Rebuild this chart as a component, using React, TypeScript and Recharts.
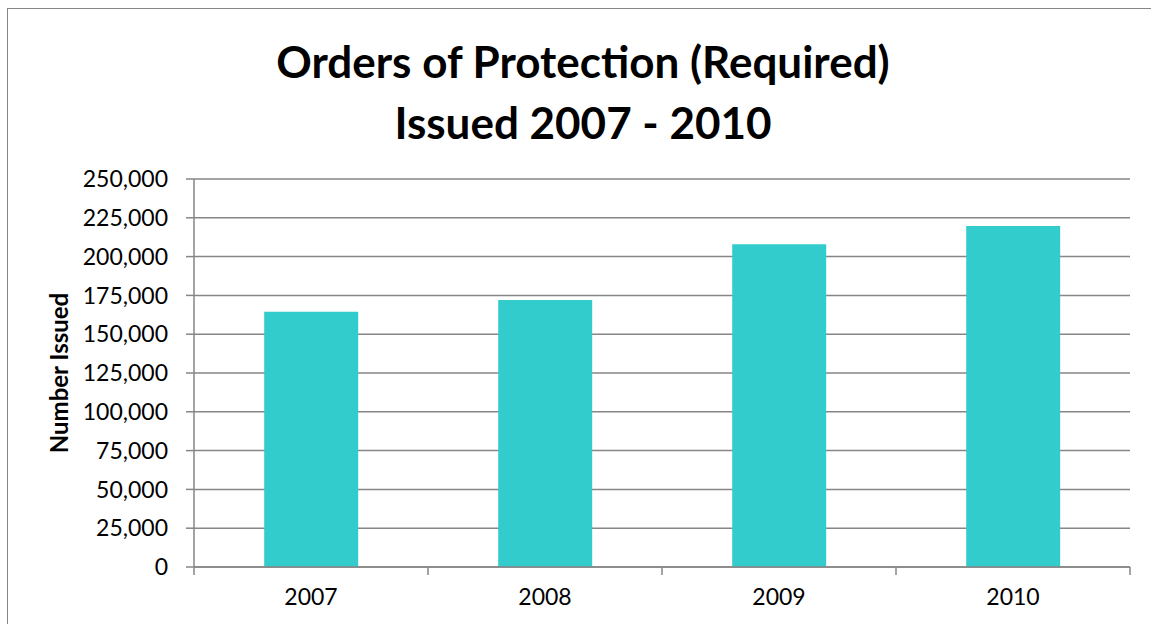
import { BarChart, Bar, XAxis, YAxis, CartesianGrid } from "recharts";

const years = ["2007", "2008", "2009", "2010"];
const issued = [164500, 172000, 208000, 219700];
const yTicks = [0, 25000, 50000, 75000, 100000, 125000, 150000, 175000, 200000, 225000, 250000];

const data = years.map((year, i) => ({ year, issued: issued[i] }));

const GRAY = "#868686";
const FONT = "Lato, 'Open Sans', sans-serif";
const X_TICK_GAP = 22;

// category label plus tick marks on the category boundaries (Excel style)
function YearTick(props: any) {
  const { x, y, payload, index, visibleTicksCount } = props;
  const half = payload?.offset ?? 0;
  const axisY = y - X_TICK_GAP;
  const last = index === (visibleTicksCount ?? years.length) - 1;
  return (
    <g>
      <line x1={x - half} x2={x - half} y1={axisY} y2={axisY + 8} stroke={GRAY} strokeWidth={1.5} />
      {last && (
        <line x1={x + half} x2={x + half} y1={axisY} y2={axisY + 8} stroke={GRAY} strokeWidth={1.5} />
      )}
      <text x={x} y={y} dy="0.71em" textAnchor="middle" fontSize={23} fontFamily={FONT} fill="#000">
        {payload.value}
      </text>
    </g>
  );
}

export default function App() {
  return (
    <div
      style={{
        position: "absolute",
        left: 7,
        top: 8,
        width: 1160,
        height: 630,
        border: `1px solid ${GRAY}`,
        boxSizing: "border-box",
        background: "#fff",
        fontFamily: FONT,
      }}
    >
      <div
        style={{
          position: "absolute",
          left: 0,
          top: 22,
          width: 1150,
          textAlign: "center",
          fontWeight: 700,
          fontSize: 44,
          lineHeight: "61px",
          color: "#000",
        }}
      >
        Orders of Protection (Required)
        <br />
        Issued 2007 - 2010
      </div>
      <BarChart
        width={1150}
        height={610}
        data={data}
        margin={{ top: 170, right: 28, left: 76, bottom: 2 }}
        barCategoryGap="30%"
      >
        <CartesianGrid vertical={false} stroke={GRAY} strokeWidth={1.5} />
        <XAxis
          dataKey="year"
          height={50}
          tickLine={false}
          tickSize={0}
          tickMargin={X_TICK_GAP}
          axisLine={{ stroke: GRAY, strokeWidth: 1.5 }}
          tick={<YearTick />}
        />
        <YAxis
          width={110}
          domain={[0, 250000]}
          ticks={yTicks}
          interval={0}
          tickSize={8}
          tickMargin={18}
          axisLine={{ stroke: GRAY, strokeWidth: 1.5 }}
          tickLine={{ stroke: GRAY, strokeWidth: 1.5 }}
          tick={{ fill: "#000", fontSize: 23, fontFamily: FONT }}
          tickFormatter={(v: number) => v.toLocaleString("en-US")}
          label={{
            content: (props: any) => {
              const vb = props.viewBox || { x: 76, y: 170, height: 388 };
              const cx = vb.x - 24;
              const cy = vb.y + vb.height / 2;
              return (
                <text
                  x={cx}
                  y={cy}
                  dy="0.35em"
                  textAnchor="middle"
                  transform={`rotate(-90, ${cx}, ${cy})`}
                  fontWeight={700}
                  fontSize={24}
                  fontFamily={FONT}
                  fill="#000"
                >
                  Number Issued
                </text>
              );
            },
          }}
        />
        <Bar dataKey="issued" fill="#33CCCC" isAnimationActive={false} />
      </BarChart>
    </div>
  );
}
